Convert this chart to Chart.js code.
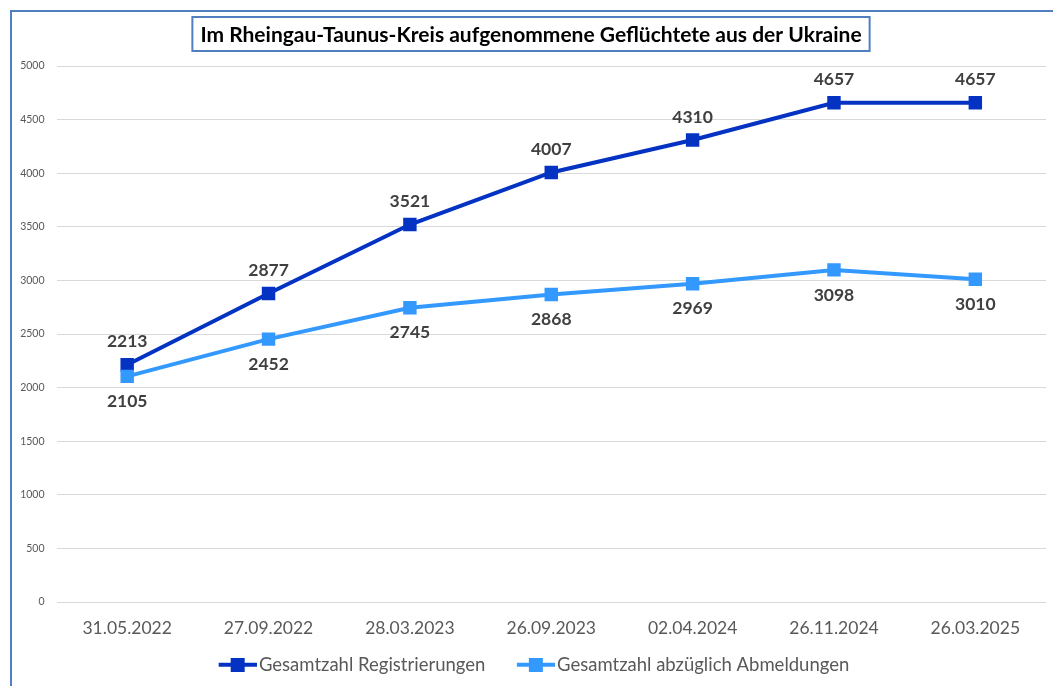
<!DOCTYPE html>
<html lang="de">
<head>
<meta charset="utf-8">
<title>Geflüchtete aus der Ukraine – Rheingau-Taunus-Kreis</title>
<script src="https://cdn.jsdelivr.net/npm/chart.js@4.4.1/dist/chart.umd.min.js"></script>
<style>
  html, body { margin: 0; padding: 0; background: #ffffff; }
  #wrap { position: relative; width: 1053px; height: 686px; }
</style>
</head>
<body>
<div id="wrap"><canvas id="chart" width="1053" height="686"></canvas></div>
<script>
// Stichtage und Werte
const titleText = 'Im Rheingau-Taunus-Kreis aufgenommene Geflüchtete aus der Ukraine';
const dates = ['31.05.2022', '27.09.2022', '28.03.2023', '26.09.2023', '02.04.2024', '26.11.2024', '26.03.2025'];
const registrierungen = [2213, 2877, 3521, 4007, 4310, 4657, 4657];
const abzueglichAbmeldungen = [2105, 2452, 2745, 2868, 2969, 3098, 3010];
const seriesNames = ['Gesamtzahl Registrierungen', 'Gesamtzahl abzüglich Abmeldungen'];
const yMin = 0, yMax = 5000, yStep = 500;

const DARK = '#0433c4';
const LIGHT = '#3399ff';
const FONT = 'Lato, "Open Sans", "Liberation Sans", sans-serif';

// Legend symbol: short line with a square in the middle.
// The canvas has blank space on its left so the items sit further apart.
function legendSymbol(color) {
  const c = document.createElement('canvas');
  c.width = 67; c.height = 14;
  const g = c.getContext('2d');
  g.strokeStyle = color; g.lineWidth = 4;
  g.beginPath(); g.moveTo(29, 7); g.lineTo(67, 7); g.stroke();
  g.fillStyle = color; g.fillRect(41, 0, 14, 14);
  return c;
}

// Frame around the chart and the boxed title
const framePlugin = {
  id: 'frame',
  beforeDraw(chart) {
    const ctx = chart.ctx;
    ctx.save();
    ctx.fillStyle = '#ffffff';
    ctx.fillRect(0, 0, chart.width, chart.height);
    ctx.strokeStyle = '#4f7fbf';
    ctx.lineWidth = 2;
    ctx.beginPath();
    ctx.moveTo(11, chart.height);
    ctx.lineTo(11, 11);
    ctx.lineTo(chart.width, 11);
    ctx.stroke();
    ctx.restore();
  },
  afterDraw(chart) {
    const ctx = chart.ctx;
    ctx.save();
    ctx.font = 'bold 21px ' + FONT;
    ctx.textAlign = 'center';
    ctx.textBaseline = 'middle';
    const cx = 531, cy = 34;
    const w = ctx.measureText(titleText).width;
    const bw = w + 16, bh = 34;
    ctx.fillStyle = '#ffffff';
    ctx.fillRect(cx - bw / 2, cy - bh / 2, bw, bh);
    ctx.strokeStyle = '#4f7fbf';
    ctx.lineWidth = 2;
    ctx.strokeRect(cx - bw / 2, cy - bh / 2, bw, bh);
    ctx.fillStyle = '#000000';
    ctx.fillText(titleText, cx, cy + 1);
    ctx.restore();
  }
};

// Value labels: above the points for the first series, below for the second
const valueLabelPlugin = {
  id: 'valueLabels',
  afterDatasetsDraw(chart) {
    const ctx = chart.ctx;
    ctx.save();
    ctx.font = 'bold 17.5px ' + FONT;
    ctx.fillStyle = '#404040';
    ctx.textAlign = 'center';
    ctx.textBaseline = 'middle';
    chart.data.datasets.forEach((ds, i) => {
      const meta = chart.getDatasetMeta(i);
      const offset = i === 0 ? -23 : 25;
      meta.data.forEach((pt, j) => {
        ctx.fillText(String(ds.data[j]), pt.x, pt.y + offset);
      });
    });
    ctx.restore();
  }
};

new Chart(document.getElementById('chart'), {
  type: 'line',
  data: {
    labels: dates,
    datasets: [
      {
        label: seriesNames[0],
        data: registrierungen,
        order: 1,
        borderColor: DARK,
        backgroundColor: DARK,
        borderWidth: 4,
        pointStyle: 'rect',
        pointRadius: 9.5,
        pointHoverRadius: 9.5,
        pointBackgroundColor: DARK,
        pointBorderWidth: 0,
        tension: 0
      },
      {
        label: seriesNames[1],
        data: abzueglichAbmeldungen,
        order: 0,
        borderColor: LIGHT,
        backgroundColor: LIGHT,
        borderWidth: 4,
        pointStyle: 'rect',
        pointRadius: 9.5,
        pointHoverRadius: 9.5,
        pointBackgroundColor: LIGHT,
        pointBorderWidth: 0,
        tension: 0
      }
    ]
  },
  options: {
    responsive: false,
    animation: false,
    devicePixelRatio: 1,
    layout: { autoPadding: false, padding: { top: 66, right: 7, bottom: 2, left: 0 } },
    plugins: {
      title: { display: false },
      tooltip: { enabled: false },
      legend: {
        position: 'bottom',
        labels: {
          usePointStyle: true,
          pointStyleWidth: 53,
          boxHeight: 14,
          padding: 9.5,
          color: '#595959',
          font: { family: FONT, size: 18.5 },
          generateLabels(chart) {
            return chart.data.datasets.map((ds, i) => ({
              text: ds.label,
              fillStyle: ds.borderColor,
              strokeStyle: ds.borderColor,
              lineWidth: 0,
              pointStyle: legendSymbol(ds.borderColor),
              hidden: false,
              datasetIndex: i,
              fontColor: '#595959'
            }));
          }
        }
      }
    },
    scales: {
      x: {
        offset: true,
        grid: { display: false, drawTicks: false },
        border: { display: false },
        ticks: {
          color: '#595959',
          font: { family: FONT, size: 17.5 },
          padding: 16,
          maxRotation: 0
        },
        afterFit(scale) { scale.height = 44; }
      },
      y: {
        min: yMin,
        max: yMax,
        grid: { color: '#d9d9d9', lineWidth: 1, drawTicks: false },
        border: { display: false },
        ticks: {
          stepSize: yStep,
          color: '#595959',
          font: { family: FONT, size: 10.5 },
          padding: 12,
          callback: (value) => String(value)
        },
        afterFit(scale) { scale.width = 56.5; }
      }
    }
  },
  plugins: [framePlugin, valueLabelPlugin]
});
</script>
</body>
</html>
